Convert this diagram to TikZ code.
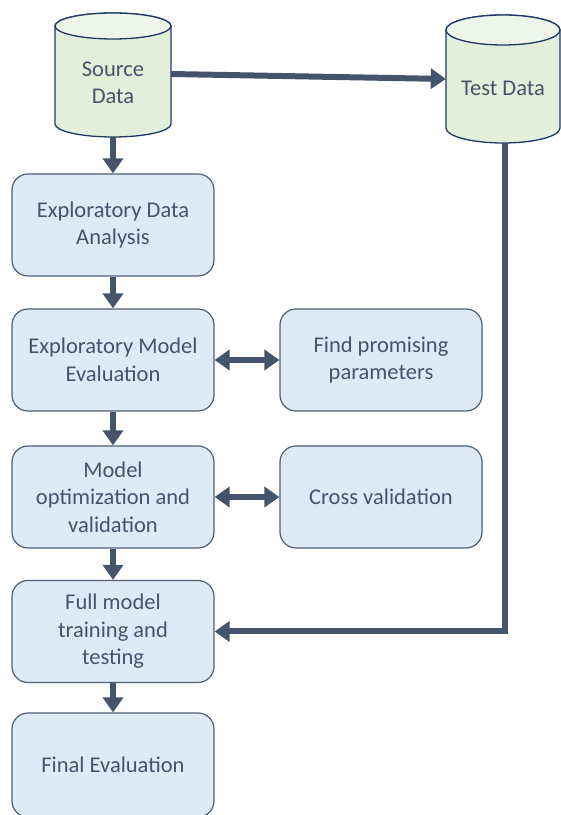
\documentclass[tikz,border=0pt]{standalone}
\usepackage{fontspec}
\setmainfont{Carlito}
\usetikzlibrary{arrows.meta}
\definecolor{arr}{HTML}{44546A}
\definecolor{boxfill}{HTML}{DEEBF7}
\definecolor{boxline}{HTML}{4F5F78}
\definecolor{cylfill}{HTML}{E2EFDA}
\definecolor{cyltop}{HTML}{EEF5E9}
\definecolor{cylline}{HTML}{1F3864}
\tikzset{
  stepbox/.style={draw=boxline, line width=1.2pt, fill=boxfill, rounded corners=16pt,
    minimum width=202pt, minimum height=102pt, inner sep=0pt, align=center,
    text=arr, font=\fontsize{22.5}{27.5}\selectfont},
  cyltext/.style={inner sep=0pt, align=center, text=arr, font=\fontsize{22.5}{27.5}\selectfont},
  flow/.style={draw=arr, line width=6pt, -{Triangle[length=15pt,width=20pt]}},
  both/.style={draw=arr, line width=6pt, {Triangle[length=15pt,width=20pt]}-{Triangle[length=15pt,width=20pt]}},
  cylbody/.style={draw=cylline, line width=1.3pt, fill=cylfill},
  cyllid/.style={draw=cylline, line width=1.3pt, fill=cyltop},
}
\begin{document}
\begin{tikzpicture}[x=1pt,y=1pt]
\useasboundingbox (0,0) rectangle (561,815);
% cylinders
\path[cylbody] (55,789) -- (55,691) arc[start angle=180,end angle=360,x radius=58,y radius=13] -- (171,789) arc[start angle=0,end angle=180,x radius=58,y radius=13] -- cycle;
\path[cyllid] (113,789) ellipse[x radius=58,y radius=13];
\path[cylbody] (446,785) -- (446,687) arc[start angle=180,end angle=360,x radius=57,y radius=15] -- (560,785) arc[start angle=0,end angle=180,x radius=57,y radius=15] -- cycle;
\path[cyllid] (503,785) ellipse[x radius=57,y radius=15];
\node[cyltext, minimum width=116pt] (src) at (113,732) {Source\\Data};
\node[cyltext, minimum width=114pt] (tst) at (503,727) {Test Data};
\coordinate (srcbot) at (113,678);
\coordinate (tstbot) at (505,672);
% boxes
\node[stepbox] (eda) at (113,590) {Exploratory Data\\Analysis};
\node[stepbox] (eme) at (113,455) {Exploratory Model\\Evaluation};
\node[stepbox] (mov) at (113,318) {Model\\optimization and\\validation};
\node[stepbox] (fmt) at (113,183.5) {Full model\\training and\\testing};
\node[stepbox, minimum height=104pt] (fe) at (113,50) {Final Evaluation};
\node[stepbox] (fpp) at (381,455) {Find promising\\parameters};
\node[stepbox] (cv) at (381,318) {Cross validation};
% connectors
\draw[flow] ([yshift=9pt]src.east) -- ([yshift=9pt]tst.west);
\draw[flow] (srcbot) -- (eda.north);
\draw[flow] (eda.south) -- (eme.north);
\draw[flow] (eme.south) -- (mov.north);
\draw[flow] (mov.south) -- (fmt.north);
\draw[flow] (fmt.south) -- (fe.north);
\draw[both] (eme.east) -- (fpp.west);
\draw[both] (mov.east) -- (cv.west);
\draw[flow] (tstbot) |- (fmt.east);
\end{tikzpicture}
\end{document}
